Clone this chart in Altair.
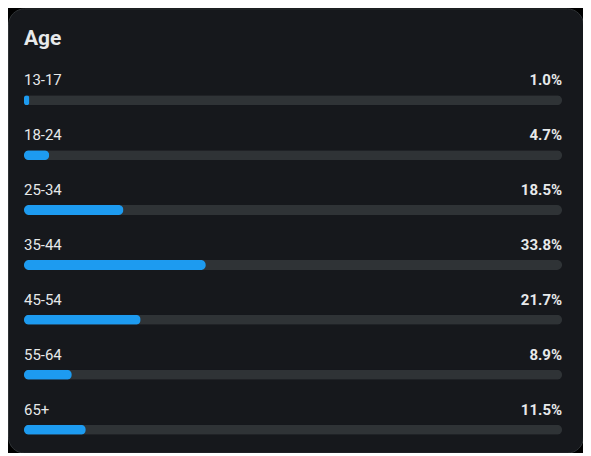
import altair as alt
import pandas as pd

ages = ["13-17", "18-24", "25-34", "35-44", "45-54", "55-64", "65+"]
shares = [1.0, 4.7, 18.5, 33.8, 21.7, 8.9, 11.5]
title_text = ["Age"]

df = pd.DataFrame({"age": ages, "share": shares})
df["label"] = [f"{v:.1f}%" for v in shares]
df["zero"] = 0
df["full"] = 100

x_scale = alt.Scale(domain=[0, 100], range=[16, 555], zero=True, nice=False)
y_scale = alt.Scale(type="point", domain=ages, range=[92, 422], padding=0)

base = alt.Chart(df)
Y = alt.Y("age:N", scale=y_scale, axis=None)

track = base.mark_bar(height=10, cornerRadius=5, color="#2f3336").encode(
    x=alt.X("full:Q", scale=x_scale, axis=None), y=Y
)
bars = base.mark_bar(height=10, cornerRadius=5, color="#1d9bf0").encode(
    x=alt.X("share:Q", scale=x_scale, axis=None), y=Y
)
names = base.mark_text(
    align="left", baseline="alphabetic", dy=-15, fontSize=15, font="Roboto", color="#e7e9ea"
).encode(x=alt.X("zero:Q", scale=x_scale, axis=None), y=Y, text="age:N")
pcts = base.mark_text(
    align="right", baseline="alphabetic", dy=-15, fontSize=15, font="Roboto",
    fontWeight="bold", color="#e7e9ea"
).encode(x=alt.X("full:Q", scale=x_scale, axis=None), y=Y, text="label:N")

title = alt.Chart(pd.DataFrame({"t": title_text})).mark_text(
    align="left", baseline="alphabetic", fontSize=21, font="Roboto",
    fontWeight="bold", color="#e7e9ea"
).encode(x=alt.value(16), y=alt.value(37), text="t:N")

chart = alt.layer(track, bars, names, pcts, title).properties(
    width=576, height=445, padding=0,
    autosize=alt.AutoSizeParams(type="none"),
    background="#000000",
).configure_view(
    fill="#16181c", stroke="#2f3336", strokeWidth=1, cornerRadius=16
)

chart.save("out.html", embed_options={"renderer": "svg", "actions": False})
